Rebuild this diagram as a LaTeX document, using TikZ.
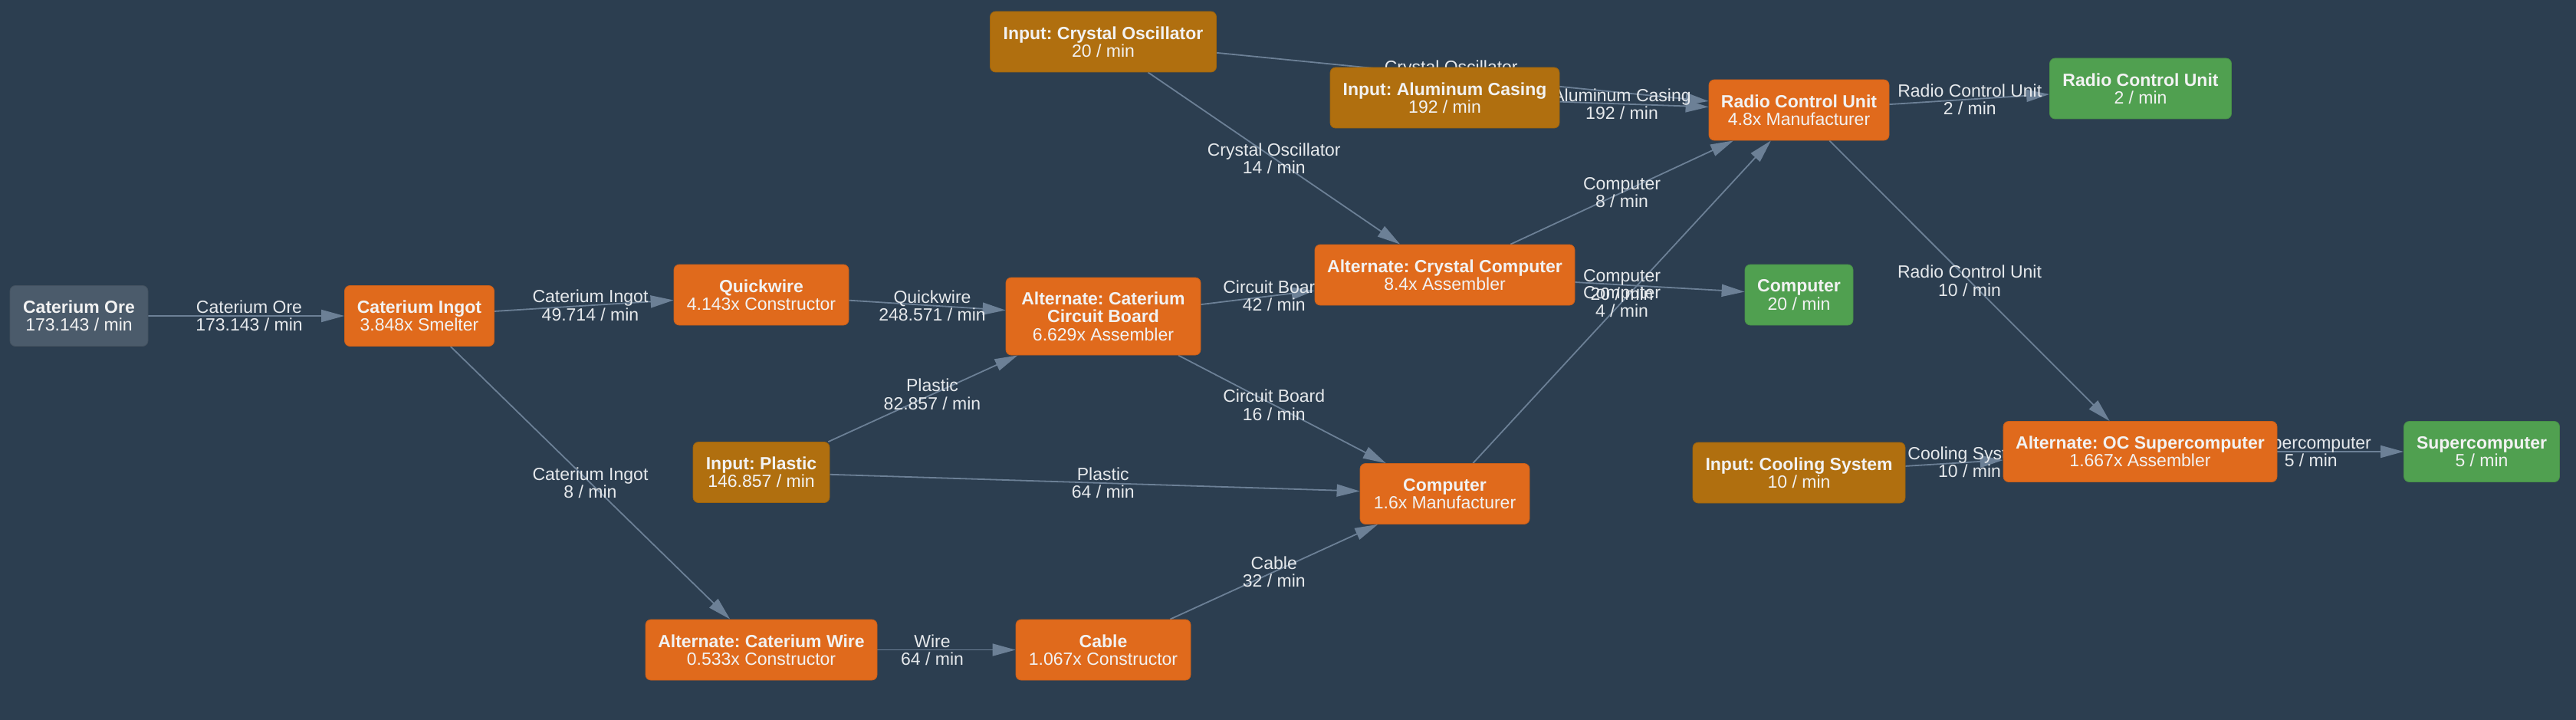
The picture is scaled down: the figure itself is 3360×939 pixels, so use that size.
\documentclass[tikz,border=0pt]{standalone}
\usepackage{fontspec}
\setmainfont{Liberation Sans}
\frenchspacing
\usetikzlibrary{arrows.meta,calc}
\pgfdeclarelayer{bglayer}
\pgfdeclarelayer{edgelayer}
\pgfsetlayers{bglayer,edgelayer,main}
\definecolor{bg}{HTML}{2C3E50}
\definecolor{edgec}{HTML}{6C8096}
\definecolor{recipec}{HTML}{E06A1C}
\definecolor{inputc}{HTML}{B06F0F}
\definecolor{outc}{HTML}{50A050}
\definecolor{rawc}{HTML}{4B5B6B}
\definecolor{txtc}{HTML}{F2F2F2}
\definecolor{lblc}{HTML}{E6E9EC}
\tikzset{
  nodebase/.style={rounded corners=7pt, line width=0.8pt, inner sep=0pt, align=center,
    text=txtc, font=\fontsize{23}{23.4}\selectfont, minimum height=79pt},
  recipe/.style={nodebase, fill=recipec, draw=recipec!90!black},
  inbox/.style={nodebase, fill=inputc, draw=inputc!90!black},
  outbox/.style={nodebase, fill=outc, draw=outc!90!black},
  rawbox/.style={nodebase, fill=rawc, draw=rawc!90!black},
  flow/.style={draw=edgec, line width=1.8pt, -{Triangle[length=30pt,width=16pt]}},
  lbl/.style={align=center, text=lblc, inner sep=0pt, font=\fontsize{23}{23.4}\selectfont},
}
\begin{document}
\begin{tikzpicture}[x=1pt,y=-1pt]
\begin{pgfonlayer}{bglayer}
\fill[bg] (0,0) rectangle (3360,939);
\end{pgfonlayer}
\useasboundingbox (0,0) rectangle (3360,939);
% nodes
\node[rawbox, minimum width=180pt] (ore) at (103,412) {\textbf{Caterium Ore}\\173.143 / min};
\node[recipe, minimum width=195pt] (ingot) at (547,412) {\textbf{Caterium Ingot}\\3.848x Smelter};
\node[recipe, minimum width=228pt] (quick) at (993,384.5) {\textbf{Quickwire}\\4.143x Constructor};
\node[recipe, minimum width=254pt, minimum height=101pt] (acb) at (1439,412.5) {\textbf{Alternate: Caterium}\\\textbf{Circuit Board}\\6.629x Assembler};
\node[inbox, minimum width=295pt] (osc) at (1439,54.5) {\textbf{Input: Crystal Oscillator}\\20 / min};
\node[inbox, minimum width=299pt] (alu) at (1884.5,127.5) {\textbf{Input: Aluminum Casing}\\192 / min};
\node[recipe, minimum width=235pt] (rcu) at (2346.5,143.5) {\textbf{Radio Control Unit}\\4.8x Manufacturer};
\node[outbox, minimum width=237pt] (rcuout) at (2792,115.5) {\textbf{Radio Control Unit}\\2 / min};
\node[recipe, minimum width=339pt] (acc) at (1884.5,358.5) {\textbf{Alternate: Crystal Computer}\\8.4x Assembler};
\node[outbox, minimum width=141pt] (compout) at (2346.5,384.5) {\textbf{Computer}\\20 / min};
\node[recipe, minimum width=221pt] (comp) at (1884.5,644) {\textbf{Computer}\\1.6x Manufacturer};
\node[inbox, minimum width=178pt] (plastic) at (993,616) {\textbf{Input: Plastic}\\146.857 / min};
\node[recipe, minimum width=302pt] (awire) at (993,847.5) {\textbf{Alternate: Caterium Wire}\\0.533x Constructor};
\node[recipe, minimum width=228pt] (cable) at (1439,847.5) {\textbf{Cable}\\1.067x Constructor};
\node[inbox, minimum width=277pt] (cool) at (2346.5,616.5) {\textbf{Input: Cooling System}\\10 / min};
\node[recipe, minimum width=357pt] (aoc) at (2791.5,589) {\textbf{Alternate: OC Supercomputer}\\1.667x Assembler};
\node[outbox, minimum width=203pt] (superout) at (3237,589) {\textbf{Supercomputer}\\5 / min};
% edges and labels
\begin{pgfonlayer}{edgelayer}
\draw[flow] (ore) -- (ingot);
\draw[flow] (ingot) -- (quick);
\draw[flow] (ingot) -- (awire);
\draw[flow] (quick) -- (acb);
\draw[flow] (plastic) -- (acb);
\draw[flow] (plastic) -- (comp);
\draw[flow] (awire) -- (cable);
\draw[flow] (cable) -- (comp);
\draw[flow] (acb) -- (acc);
\draw[flow] (acb) -- (comp);
\draw[flow] (osc) -- (acc);
\draw[flow] (osc) -- (rcu);
\draw[flow] (alu) -- (rcu);
\draw[flow] (acc) -- (rcu);
\draw[flow] (acc) -- (compout);
\draw[flow] (comp) -- (rcu);
\draw[flow] (rcu) -- (rcuout);
\draw[flow] (rcu) -- (aoc);
\draw[flow] (cool) -- (aoc);
\draw[flow] (aoc) -- (superout);
\node[lbl] (l1) at ($(ore)!0.5!(ingot)$) {Caterium Ore\\173.143 / min};
\node[lbl] (l2) at ($(ingot)!0.5!(quick)$) {Caterium Ingot\\49.714 / min};
\node[lbl] (l3) at ($(ingot)!0.5!(awire)$) {Caterium Ingot\\8 / min};
\node[lbl] (l4) at ($(quick)!0.5!(acb)$) {Quickwire\\248.571 / min};
\node[lbl] (l5) at ($(plastic)!0.5!(acb)$) {Plastic\\82.857 / min};
\node[lbl] (l6) at ($(plastic)!0.5!(comp)$) {Plastic\\64 / min};
\node[lbl] (l7) at ($(awire)!0.5!(cable)$) {Wire\\64 / min};
\node[lbl] (l8) at ($(cable)!0.5!(comp)$) {Cable\\32 / min};
\node[lbl] (l9) at ($(acb)!0.5!(acc)$) {Circuit Board\\42 / min};
\node[lbl] (l10) at ($(acb)!0.5!(comp)$) {Circuit Board\\16 / min};
\node[lbl] (l11) at ($(osc)!0.5!(acc)$) {Crystal Oscillator\\14 / min};
\node[lbl] (l12) at ($(osc)!0.5!(rcu)$) {Crystal Oscillator\\6 / min};
\node[lbl] (l13) at ($(alu)!0.5!(rcu)$) {Aluminum Casing\\192 / min};
\node[lbl] (l14) at ($(acc)!0.5!(rcu)$) {Computer\\8 / min};
\node[lbl] (l15) at ($(acc)!0.5!(compout)$) {Computer\\20 / min};
\node[lbl] (l16) at ($(comp)!0.5!(rcu)$) {Computer\\4 / min};
\node[lbl] (l17) at ($(rcu)!0.5!(rcuout)$) {Radio Control Unit\\2 / min};
\node[lbl] (l18) at ($(rcu)!0.5!(aoc)$) {Radio Control Unit\\10 / min};
\node[lbl] (l19) at ($(cool)!0.5!(aoc)$) {Cooling System\\10 / min};
\node[lbl] (l20) at ($(aoc)!0.5!(superout)$) {Supercomputer\\5 / min};
\end{pgfonlayer}
\end{tikzpicture}
\end{document}
